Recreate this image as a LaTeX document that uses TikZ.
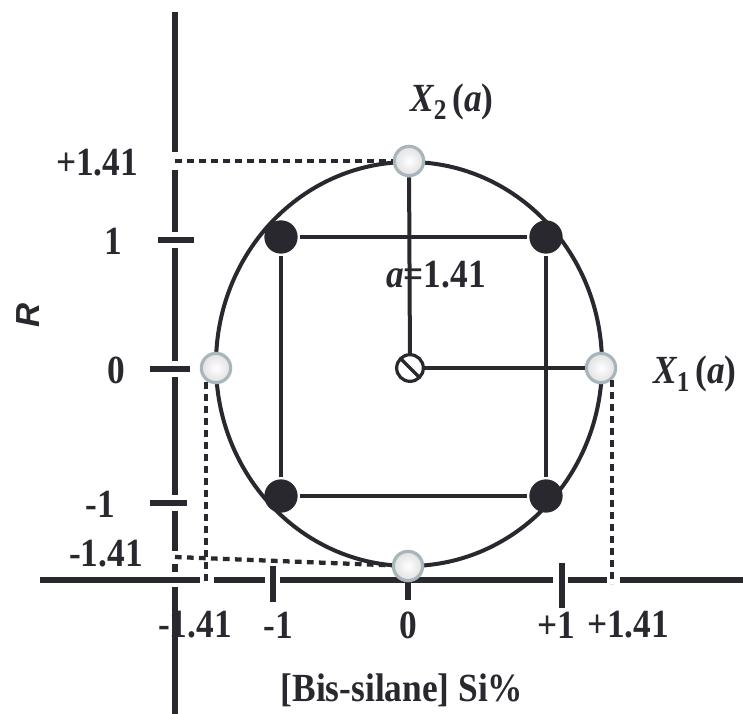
\documentclass[tikz,border=0pt]{standalone}
\usepackage{fontspec}
\setmainfont{Liberation Serif}
\setsansfont{Liberation Sans}
\definecolor{ink}{RGB}{40,40,46}
\definecolor{rim}{RGB}{168,182,188}
\newcommand{\tall}[1]{\scalebox{1}[1.13]{#1}}

\begin{document}
\begin{tikzpicture}[x=0.75pt,y=-0.75pt,line width=3pt,color=ink,
  every node/.style={font=\fontsize{26.5}{30}\selectfont\bfseries},
  full/.style={circle,fill=ink,minimum size=25pt,inner sep=0pt},
  open/.style={circle,draw=rim,line width=2.4pt,inner color=white,outer color=black!12,minimum size=22pt,inner sep=0pt},
  ctr/.style={circle,draw,line width=2.4pt,minimum size=20pt,inner sep=0pt,
    path picture={\draw[line width=2.4pt] (path picture bounding box.north west) -- (path picture bounding box.south east);}},
  ax/.style={line width=3.8pt},
  guide/.style={line width=3.2pt,dash pattern=on 5pt off 4pt}]
  \useasboundingbox (0,0) rectangle (743,714);

  % axes, broken at the ticks
  \foreach \a/\b in {12/152,170/232,248/361,377/495,511/551,564/572,587/714}
    \draw[ax] (175,\a) -- (175,\b);
  \foreach \a/\b in {40/200,214/265,280/553,568/607,620/743}
    \draw[ax] (\a,580) -- (\b,580);
  \draw[ax] (158,240) -- (194,240);
  \draw[ax] (150,369) -- (190,369);
  \draw[ax] (150,503) -- (187,503);
  \draw[ax] (273,566) -- (273,602);
  \draw[ax] (562,563) -- (562,608);
  \draw[ax] (408,580) -- (408,600);

  % design region
  \draw (409,364) ellipse [x radius=144.75pt,y radius=151.5pt];
  \node[full] (tl) at (281,237) {};
  \node[full] (tr) at (546,237) {};
  \node[full] (bl) at (281,496) {};
  \node[full] (br) at (546,496) {};
  \draw (tl) -- (tr) -- (br) -- (bl) -- (tl);

  \node[open] (top) at (409,161) {};
  \node[open] (lft) at (216,368) {};
  \node[open] (rgt) at (601,368) {};
  \node[open] (bot) at (408,566) {};
  \node[ctr] (o) at (410,368) {};
  \draw (top) -- (o);
  \draw (o) -- (rgt);
  \node (al) at (436,275) {\tall{\itshape a\upshape=1.41}};

  % projections onto the axes
  \coordinate (yhi) at (175,161);
  \coordinate (ylo) at (175,557);
  \coordinate (xlo) at (206,584);
  \coordinate (xhi) at (612,584);
  \draw[guide] (yhi) -- (top);
  \draw[guide] (ylo) -- (bot);
  \draw[guide] (206,382) -- (xlo);
  \draw[guide] (612,380) -- (xhi);

  % labels
  \node (y1) at (97,163) {\tall{+1.41}};
  \node (y2) at (113,241) {\tall{1}};
  \node (y3) at (116,370) {\tall{0}};
  \node (y4) at (100,504) {\tall{-1}};
  \node (y5) at (106,554) {\tall{-1.41}};
  \node (x1) at (195,625) {\tall{-1.41}};
  \node (x2) at (278,625) {\tall{-1}};
  \node (x3) at (408,625) {\tall{0}};
  \node (x4) at (556,625) {\tall{+1}};
  \node (x5) at (628,625) {\tall{+1.41}};
  \node (xt) at (402,690) {\tall{[Bis-silane] Si\%}};
  \node[font=\fontsize{25}{28}\selectfont\sffamily\bfseries\itshape,rotate=90] (yt) at (28,315) {R};
  \node (lx2) at (452,102) {\tall{\itshape X\raisebox{-.45ex}{\fontsize{19}{19}\selectfont\upshape 2}\,\upshape(\itshape a\upshape)}};
  \node (lx1) at (695,374) {\tall{\itshape X\raisebox{-.45ex}{\fontsize{19}{19}\selectfont\upshape 1}\,\upshape(\itshape a\upshape)}};
\end{tikzpicture}
\end{document}
